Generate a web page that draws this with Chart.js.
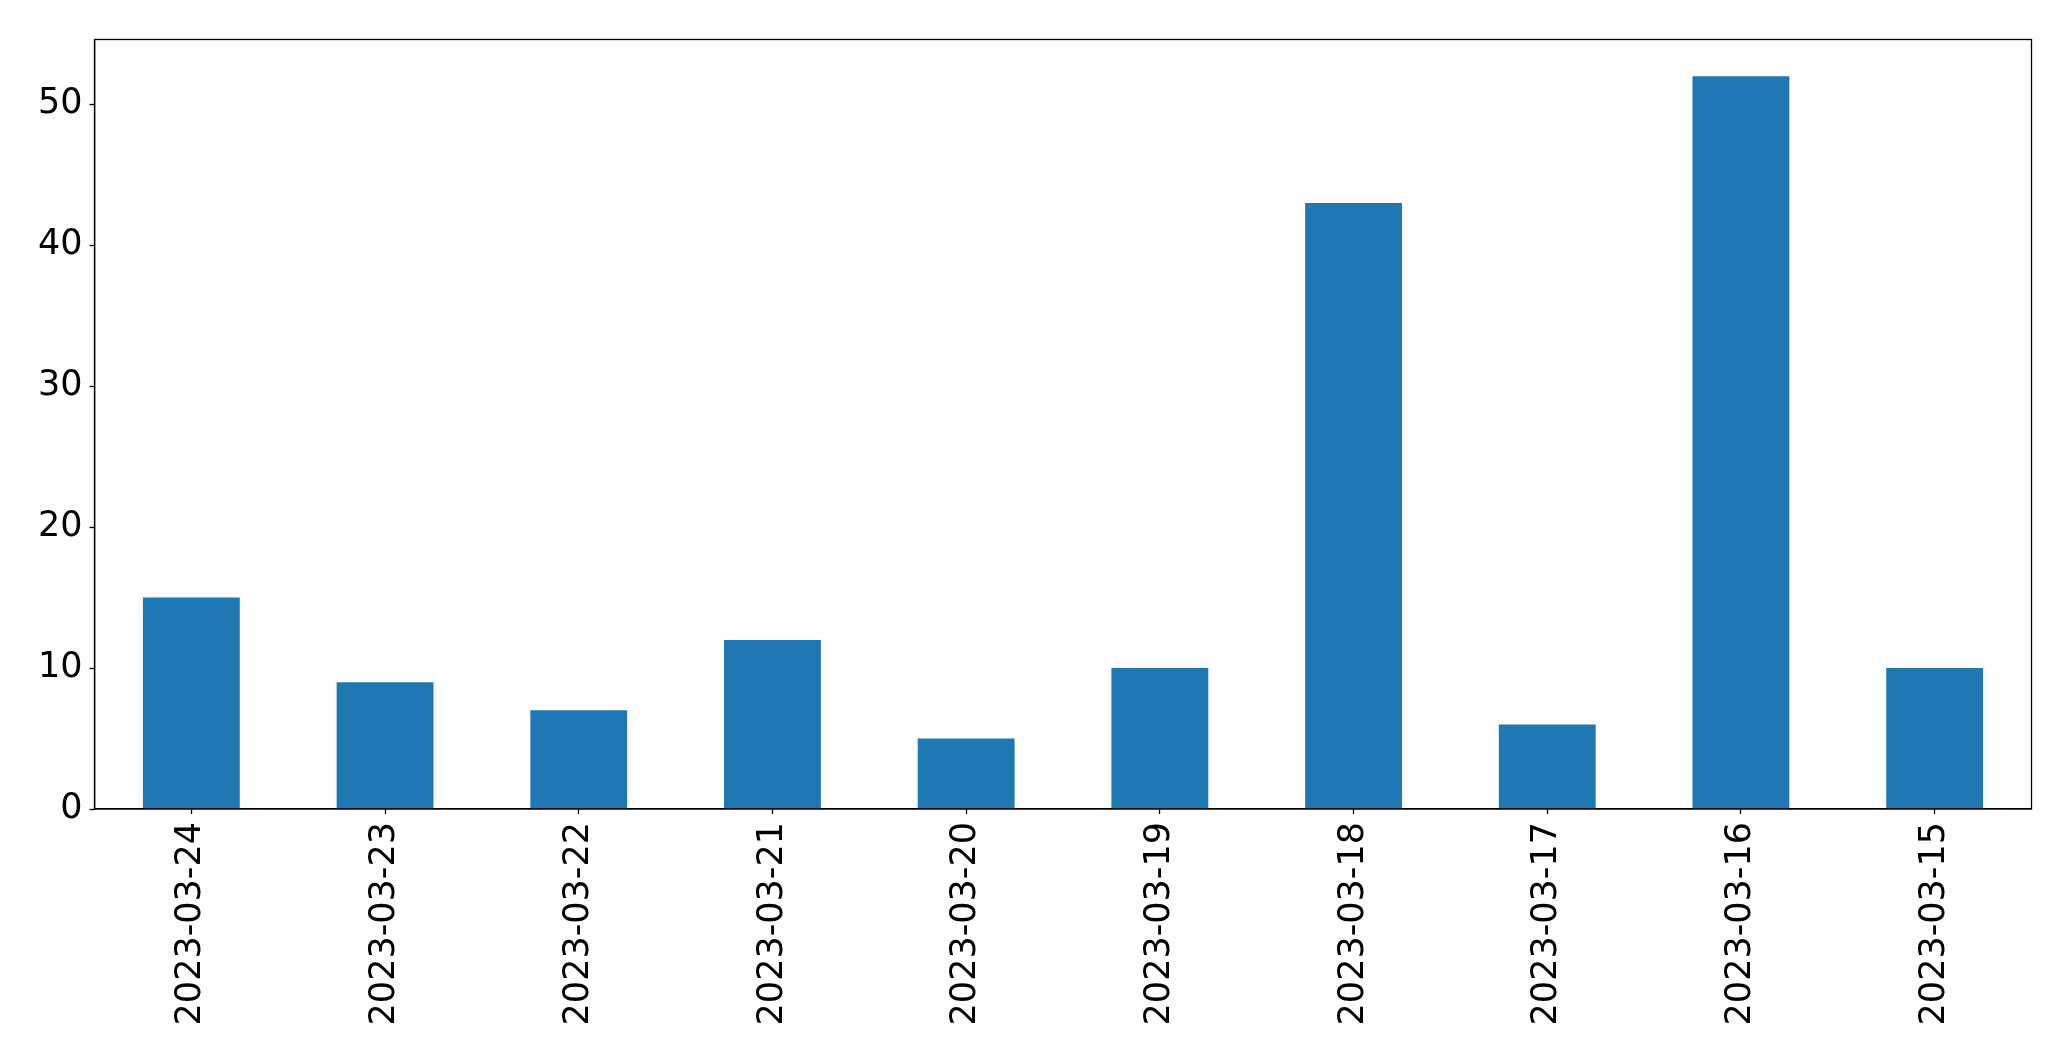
<!DOCTYPE html>
<html>
<head>
<meta charset="utf-8">
<script src="https://cdn.jsdelivr.net/npm/chart.js@4"></script>
<style>
  html, body { margin: 0; padding: 0; background: #ffffff; }
  canvas { display: block; }
</style>
</head>
<body>
<canvas id="c" width="2071" height="1061"></canvas>
<script>
const categories = ["2023-03-24","2023-03-23","2023-03-22","2023-03-21","2023-03-20","2023-03-19","2023-03-18","2023-03-17","2023-03-16","2023-03-15"];
const values = [15, 9, 7, 12, 5, 10, 43, 6, 52, 10];
const yTicks = [0, 10, 20, 30, 40, 50];

const frame = {
  id: 'frame',
  afterDraw(chart) {
    const a = chart.chartArea, ctx = chart.ctx;
    ctx.save();
    ctx.strokeStyle = '#000';
    ctx.lineWidth = 1.3;
    ctx.strokeRect(a.left, a.top, a.right - a.left, a.bottom - a.top);
    ctx.restore();
  }
};

new Chart(document.getElementById('c'), {
  type: 'bar',
  data: {
    labels: categories,
    datasets: [{ data: values, backgroundColor: '#1f77b4', borderWidth: 0,
                 categoryPercentage: 1.0, barPercentage: 0.5 }]
  },
  options: {
    responsive: false,
    devicePixelRatio: 1,
    animation: false,
    layout: { padding: { top: 39.5, right: 39.5, left: 0, bottom: 0 } },
    plugins: { legend: { display: false }, tooltip: { enabled: false } },
    scales: {
      x: {
        grid: { display: true, offset: false, drawOnChartArea: false, tickLength: 5, tickColor: '#000', tickWidth: 1.3 },
        border: { display: true, color: '#000', width: 1.3 },
        ticks: { color: '#000', font: { family: 'DejaVu Sans', size: 35 }, minRotation: 90, maxRotation: 90, padding: 8, autoSkip: false },
        afterFit(s) { s.height = 1061 - 809; }
      },
      y: {
        min: 0, max: 54.6,
        grid: { display: true, drawOnChartArea: false, tickLength: 5, tickColor: '#000', tickWidth: 1.3 },
        border: { display: true, color: '#000', width: 1.3 },
        ticks: { color: '#000', font: { family: 'DejaVu Sans', size: 35 }, stepSize: 10, padding: 7 },
        afterBuildTicks(s) { s.ticks = yTicks.map(v => ({ value: v })); },
        afterFit(s) { s.width = 94.5; }
      }
    }
  },
  plugins: [frame]
});
</script>
</body>
</html>
